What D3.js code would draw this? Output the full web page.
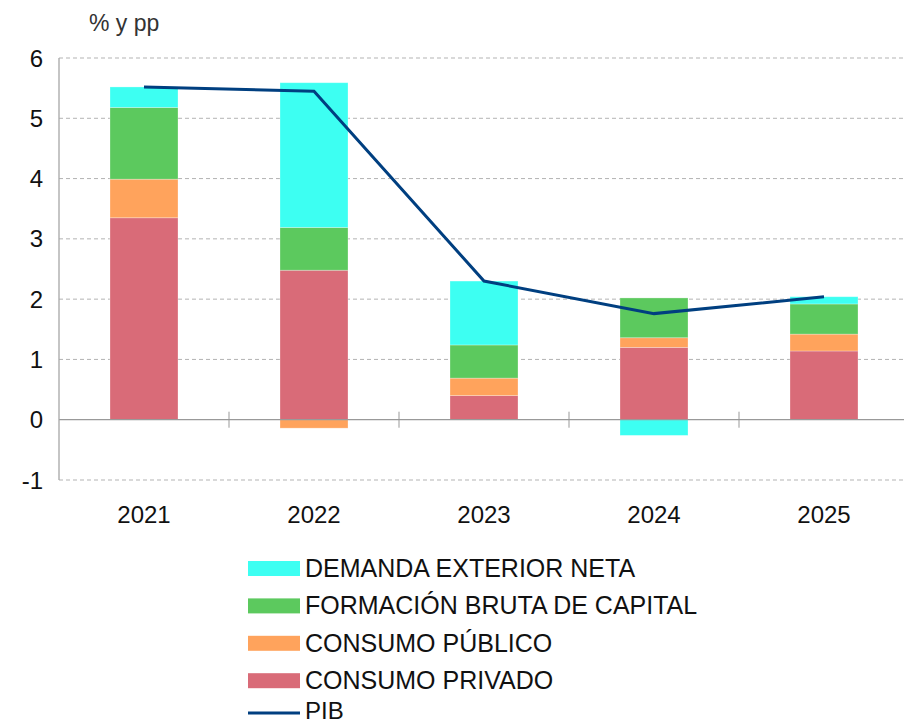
<!DOCTYPE html>
<html>
<head>
<meta charset="utf-8">
<script src="https://cdn.jsdelivr.net/npm/d3@7"></script>
<style>
  body { margin: 0; background: #fff; }
  text { font-family: "Liberation Sans", Arial, sans-serif; fill: #111; }
</style>
</head>
<body>
<script>
// data (% y pp)
var years = ["2021", "2022", "2023", "2024", "2025"];
var consumoPrivado = [3.35, 2.48, 0.40, 1.20, 1.14];
var consumoPublico = [0.64, -0.14, 0.29, 0.16, 0.28];
var formacionBruta = [1.19, 0.71, 0.55, 0.66, 0.50];
var demandaExterior = [0.34, 2.40, 1.06, -0.26, 0.12];
var pib = [5.52, 5.45, 2.30, 1.76, 2.04];
var yTicks = [-1, 0, 1, 2, 3, 4, 5, 6];

var seriesNames = ["CONSUMO PRIVADO", "CONSUMO PÚBLICO", "FORMACIÓN BRUTA DE CAPITAL", "DEMANDA EXTERIOR NETA"];
var seriesKeys = ["cp", "cpu", "fbk", "den"];
var colors = ["#d96b78", "#ffa35c", "#5cc95e", "#3dfff2"];

window.onload = function() {
  var width = 904,
      height = 726;
  var left = 59, right = 909, top = 58, bottom = 480;

  var svg = d3.select("body")
    .append("svg")
    .attr("width", width)
    .attr("height", height);

  // build rows for the stack
  var rows = years.map(function(y, i) {
    return {year: y, cp: consumoPrivado[i], cpu: consumoPublico[i], fbk: formacionBruta[i], den: demandaExterior[i]};
  });

  var stacked = d3.stack()
    .keys(seriesKeys)
    .offset(d3.stackOffsetDiverging)(rows);

  var xScale = d3.scaleBand()
    .domain(years)
    .range([left, right])
    .padding(0);

  var yScale = d3.scaleLinear()
    .domain([-1, 6])
    .range([bottom, top]);

  var barWidth = xScale.bandwidth() * 0.4;

  // gridlines
  svg.append("g")
    .selectAll("line")
    .data(yTicks.filter(function(d) { return d != 0; }))
    .enter()
    .append("line")
    .attr("x1", left)
    .attr("x2", right)
    .attr("y1", function(d) { return yScale(d); })
    .attr("y2", function(d) { return yScale(d); })
    .style("stroke", "#b3b3b3")
    .style("stroke-width", 1)
    .style("stroke-dasharray", "4,3");

  // stacked bars
  svg.append("g")
    .selectAll("g")
    .data(stacked)
    .enter()
    .append("g")
    .style("fill", function(d, i) { return colors[i]; })
    .selectAll("rect")
    .data(function(d) { return d; })
    .enter()
    .append("rect")
    .attr("x", function(d) { return xScale(d.data.year) + (xScale.bandwidth() - barWidth) / 2; })
    .attr("y", function(d) { return yScale(Math.max(d[0], d[1])); })
    .attr("width", barWidth)
    .attr("height", function(d) { return Math.abs(yScale(d[0]) - yScale(d[1])); })
    .style("stroke", "rgba(255,255,255,0.35)")
    .style("stroke-width", 0.8);

  // zero line and category ticks
  svg.append("line")
    .attr("x1", left)
    .attr("x2", right)
    .attr("y1", yScale(0))
    .attr("y2", yScale(0))
    .style("stroke", "#999")
    .style("stroke-width", 1.3);

  svg.append("g")
    .selectAll("line")
    .data(years.slice(1))
    .enter()
    .append("line")
    .attr("x1", function(d) { return xScale(d); })
    .attr("x2", function(d) { return xScale(d); })
    .attr("y1", yScale(0) - 8)
    .attr("y2", yScale(0) + 8)
    .style("stroke", "#999")
    .style("stroke-width", 1);

  // y axis line
  svg.append("line")
    .attr("x1", left)
    .attr("x2", left)
    .attr("y1", top)
    .attr("y2", bottom)
    .style("stroke", "#a6a6a6")
    .style("stroke-width", 1.3);

  // y tick labels
  svg.append("g")
    .selectAll("text")
    .data(yTicks)
    .enter()
    .append("text")
    .attr("x", 43)
    .attr("y", function(d) { return yScale(d) + 8.5; })
    .style("text-anchor", "end")
    .style("font-size", "24px")
    .text(function(d) { return d; });

  // x labels
  svg.append("g")
    .selectAll("text")
    .data(years)
    .enter()
    .append("text")
    .attr("x", function(d) { return xScale(d) + xScale.bandwidth() / 2; })
    .attr("y", 523)
    .style("text-anchor", "middle")
    .style("font-size", "24px")
    .text(function(d) { return d; });

  // unit label
  svg.append("text")
    .attr("x", 89)
    .attr("y", 31)
    .style("font-size", "23px")
    .style("fill", "#333")
    .text("% y pp");

  // PIB line
  var line = d3.line()
    .x(function(d, i) { return xScale(years[i]) + xScale.bandwidth() / 2; })
    .y(function(d) { return yScale(d); });

  svg.append("path")
    .datum(pib)
    .attr("d", line)
    .style("fill", "none")
    .style("stroke", "#003f80")
    .style("stroke-width", 3);

  // legend
  var legendOrder = [3, 2, 1, 0];
  var legend = svg.append("g")
    .attr("class", "legend");

  legend.selectAll("rect")
    .data(legendOrder)
    .enter()
    .append("rect")
    .attr("x", 248)
    .attr("y", function(d, i) { return 561 + i * 37.4; })
    .attr("width", 52)
    .attr("height", 15)
    .style("fill", function(d) { return colors[d]; });

  legend.selectAll("text")
    .data(legendOrder)
    .enter()
    .append("text")
    .attr("x", 305)
    .attr("y", function(d, i) { return 577 + i * 37.4; })
    .style("font-size", "25px")
    .text(function(d) { return seriesNames[d]; });

  // PIB entry sits a little higher so it stays inside the picture
  legend.append("line")
    .attr("x1", 248)
    .attr("x2", 300)
    .attr("y1", 713)
    .attr("y2", 713)
    .style("stroke", "#003f80")
    .style("stroke-width", 3);

  legend.append("text")
    .attr("x", 305)
    .attr("y", 719)
    .style("font-size", "24px")
    .text("PIB");
};
</script>
</body>
</html>
